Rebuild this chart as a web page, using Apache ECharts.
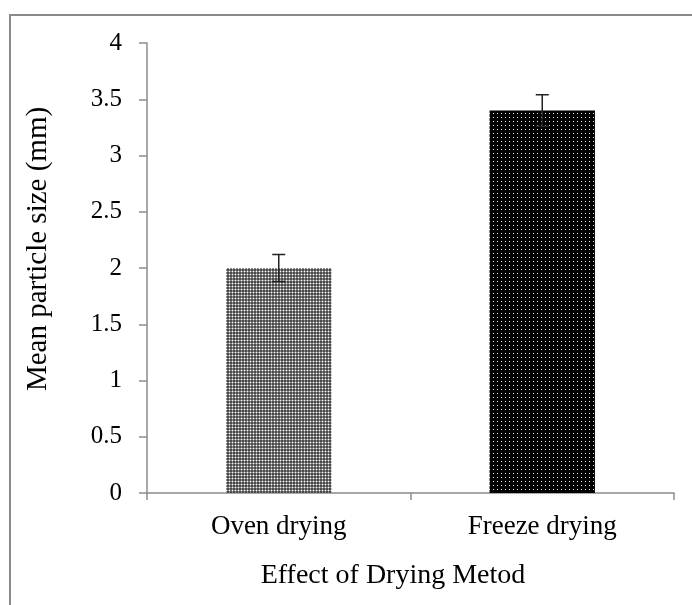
<!DOCTYPE html>
<html>
<head>
<meta charset="utf-8">
<script src="https://cdn.jsdelivr.net/npm/echarts@6/dist/echarts.min.js"></script>
<style>
html,body{margin:0;padding:0;background:#fff;}
#c{width:692px;height:605px;}
</style>
</head>
<body>
<div id="c"></div>
<script>
const categories = ['Oven drying', 'Freeze drying'];
const meanSize = [2.0, 3.40];
const errorSize = [0.12, 0.14];
const yTicks = [0, 0.5, 1, 1.5, 2, 2.5, 3, 3.5, 4];
const xTitle = 'Effect of Drying Metod';
const yTitle = 'Mean particle size (mm)';

function makePattern(pixels) {
  const n = pixels.length;
  const c = document.createElement('canvas');
  c.width = n; c.height = n;
  const ctx = c.getContext('2d');
  for (let y = 0; y < n; y++) for (let x = 0; x < n; x++) {
    ctx.fillStyle = pixels[y][x];
    ctx.fillRect(x, y, 1, 1);
  }
  return c;
}
const ovenPat = makePattern([
  ['#4a4a4a', '#8a8a8a', '#4a4a4a'],
  ['#8a8a8a', '#ffffff', '#8a8a8a'],
  ['#4a4a4a', '#8a8a8a', '#4a4a4a']
]);
const freezePat = makePattern([
  ['#000000', '#000000', '#000000', '#000000'],
  ['#000000', '#f0f0f0', '#000000', '#000000'],
  ['#000000', '#000000', '#000000', '#000000'],
  ['#000000', '#000000', '#000000', '#000000']
]);
const patterns = [ovenPat, freezePat];

const chart = echarts.init(document.getElementById('c'), null, {renderer: 'canvas'});
const font = 'Liberation Serif, Times New Roman, serif';
const axisColor = '#8c8c8c';

chart.setOption({
  animation: false,
  backgroundColor: '#fff',
  grid: {left: 147, right: 18, top: 43, bottom: 112, containLabel: false},
  graphic: [{
    type: 'rect',
    shape: {x: 10, y: 15, width: 720, height: 640},
    style: {fill: 'none', stroke: '#8a8a8a', lineWidth: 2},
    silent: true, z: 100
  }, {
    type: 'text',
    x: 393, y: 576,
    style: {text: xTitle, font: '28px ' + font, fill: '#000', align: 'center', verticalAlign: 'middle'},
    silent: true
  }, {
    type: 'text',
    x: 38, y: 249,
    rotation: Math.PI / 2,
    style: {text: yTitle, font: '29px ' + font, fill: '#000', align: 'center', verticalAlign: 'middle'},
    silent: true
  }],
  xAxis: {
    type: 'category',
    data: categories,
    boundaryGap: true,
    axisLine: {lineStyle: {color: axisColor, width: 1.5}},
    axisTick: {show: true, length: 7, alignWithLabel: false, interval: 0, lineStyle: {color: axisColor, width: 1.5}},
    axisLabel: {fontFamily: font, fontSize: 27, color: '#000', margin: 20},
    splitLine: {show: false}
  },
  yAxis: {
    type: 'value',
    min: 0, max: 4, interval: 0.5,
    axisLine: {show: true, lineStyle: {color: axisColor, width: 1.5}},
    axisTick: {show: true, length: 8, lineStyle: {color: axisColor, width: 1.5}},
    axisLabel: {fontFamily: font, fontSize: 25, color: '#000', margin: 25,
      formatter: v => (yTicks.indexOf(v) >= 0 ? String(v) : '')},
    splitLine: {show: false}
  },
  series: [{
    type: 'bar',
    barWidth: '40%',
    data: meanSize.map((v, i) => ({value: v, itemStyle: {color: {image: patterns[i], repeat: 'repeat'}}})),
    z: 2
  }, {
    type: 'custom',
    z: 3,
    data: meanSize.map((v, i) => [i, v - errorSize[i], v + errorSize[i]]),
    renderItem: function (params, api) {
      const lo = api.coord([api.value(0), api.value(1)]);
      const hi = api.coord([api.value(0), api.value(2)]);
      const hw = 6.5;
      const st = {stroke: '#222', lineWidth: 1.5};
      return {
        type: 'group',
        children: [
          {type: 'line', shape: {x1: hi[0], y1: hi[1], x2: lo[0], y2: lo[1]}, style: st},
          {type: 'line', shape: {x1: hi[0] - hw, y1: hi[1], x2: hi[0] + hw, y2: hi[1]}, style: st},
          {type: 'line', shape: {x1: lo[0] - hw, y1: lo[1], x2: lo[0] + hw, y2: lo[1]}, style: st}
        ]
      };
    }
  }]
});
</script>
</body>
</html>
